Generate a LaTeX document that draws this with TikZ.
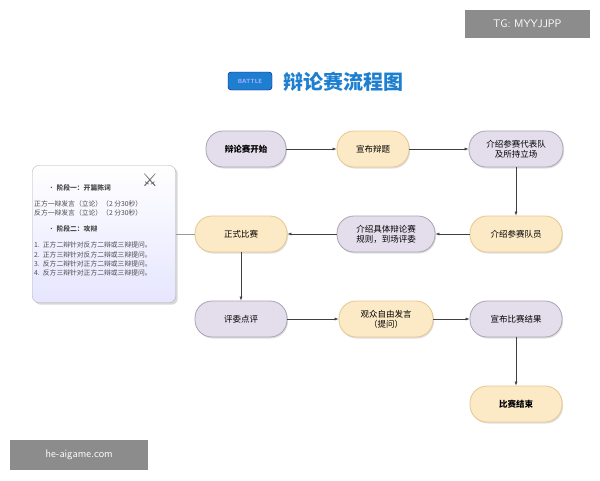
\documentclass[tikz,border=0pt]{standalone}
\usepackage{fontspec}
\newfontfamily\cjk{Noto Sans CJK SC}
\newfontfamily\dejavu{DejaVu Sans}
\usetikzlibrary{arrows.meta,shadows}
\definecolor{pfill}{HTML}{E4DEEC}
\definecolor{pline}{HTML}{A9A3B5}
\definecolor{ofill}{HTML}{FCE9C6}
\definecolor{oline}{HTML}{E6C78E}
\definecolor{tblue}{HTML}{1E7FD0}
\tikzset{
 base/.style={rounded corners=17pt,minimum height=36pt,align=center,font=\cjk\fontsize{8.5}{10}\selectfont,line width=0.8pt,drop shadow={opacity=0.25,shadow xshift=1pt,shadow yshift=-1.5pt}},
 pnode/.style={base,fill=pfill,draw=pline},
 onode/.style={base,fill=ofill,draw=oline},
 arr/.style={-{Latex[length=4pt,width=3pt]},draw=black!75,line width=0.6pt},
 wm/.style={fill=black!45,text=white,font=\fontfamily{lmss}\fontsize{11}{12}\selectfont,inner sep=5pt}
}
\begin{document}
\begin{tikzpicture}[x=1pt,y=-1pt]
\useasboundingbox (0,0) rectangle (600,480);
\fill[white] (0,0) rectangle (600,480);
% title
\node[fill=tblue,draw=blue!60!black,rounded corners=3pt,minimum width=44pt,minimum height=18pt,font=\sffamily\fontsize{6}{6}\selectfont\bfseries,text=white!70!blue] (icon) at (250,81) {BATTLE};
\node[text=tblue,font=\cjk\bfseries\fontsize{20}{22}\selectfont,anchor=west] (title) at (280,82) {辩论赛流程图};
% nodes
\node[pnode,minimum width=80pt,font=\cjk\bfseries\fontsize{8.5}{10}\selectfont] (n1) at (246,149) {辩论赛开始};
\node[onode,minimum width=72pt] (n2) at (373,149) {宣布辩题};
\node[pnode,minimum width=94pt] (n3) at (516,149) {介绍参赛代表队\\及所持立场};
\node[onode,minimum width=92pt] (n4) at (516,234) {介绍参赛队员};
\node[pnode,minimum width=98pt] (n5) at (386,234) {介绍具体辩论赛\\规则，到场评委};
\node[onode,minimum width=92pt] (n6) at (241,234) {正式比赛};
\node[pnode,minimum width=92pt] (n7) at (241,319) {评委点评};
\node[onode,minimum width=94pt] (n8) at (386,319) {观众自由发言\\（提问）};
\node[pnode,minimum width=92pt] (n9) at (516,319) {宣布比赛结果};
\node[onode,minimum width=92pt,font=\cjk\bfseries\fontsize{8.5}{10}\selectfont] (n10) at (516,404) {比赛结束};
% left box
\node[draw=black!30,top color=white,bottom color=blue!10,rounded corners=6pt,minimum width=143pt,minimum height=137pt,drop shadow={opacity=0.3}] (lb) at (104,234) {};
\node[anchor=north west,align=left,font=\cjk\fontsize{6.8}{9.2}\selectfont,text=black!70,inner sep=0pt] (lt) at (34,184) {%
\hspace*{14pt}• \textbf{阶段一：开篇陈词}\\[7pt]
正方一辩发言（立论）（2 分30秒）\\
反方一辩发言（立论）（2 分30秒）\\[7pt]
\hspace*{14pt}• \textbf{阶段二：攻辩}\\[7pt]
1.\ \ 正方二辩针对反方二辩或三辩提问。\\
2.\ \ 正方三辩针对反方二辩或三辩提问。\\
3.\ \ 反方二辩针对正方二辩或三辩提问。\\
4.\ \ 反方三辩针对正方二辩或三辩提问。};
\node[font=\dejavu\fontsize{18}{18}\selectfont,text=black!60] (sw) at (150,180) {⚔};
% connectors
\draw[arr] (n1) -- (n2);
\draw[arr] (n2) -- (n3);
\draw[arr] (n3) -- (n4);
\draw[arr] (n4) -- (n5);
\draw[arr] (n5) -- (n6);
\draw[arr] (n6) -- (n7);
\draw[arr] (n7) -- (n8);
\draw[arr] (n8) -- (n9);
\draw[arr] (n9) -- (n10);
\draw[black!40,line width=1pt] (lb.east) -- (n6.west);
% watermarks
\node[wm,anchor=north east,minimum width=125pt,minimum height=28pt] (tg) at (590,10) {TG: MYYJJPP};
\node[wm,anchor=north west,minimum width=138pt,minimum height=30pt] (he) at (10,440) {he-aigame.com};
\end{tikzpicture}
\end{document}
